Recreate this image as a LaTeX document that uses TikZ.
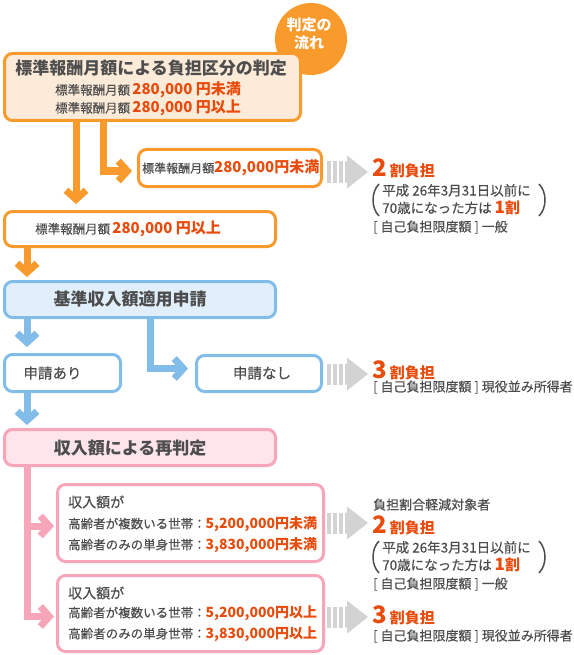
\documentclass[tikz,border=0pt]{standalone}
\usepackage{fontspec}
\setmainfont{Noto Sans CJK JP}[UprightFeatures={FakeBold=0.4}]
\usetikzlibrary{arrows.meta,calc}
\definecolor{orng}{HTML}{F99A2D}
\definecolor{orfill}{HTML}{FDEBDA}
\definecolor{redt}{HTML}{E94B0C}
\definecolor{txt}{HTML}{4D4D4D}
\definecolor{bluel}{HTML}{82BCE8}
\definecolor{bluef}{HTML}{E0EFFB}
\definecolor{pinkl}{HTML}{F7A6B9}
\definecolor{pinkf}{HTML}{FDE5EB}
\definecolor{grayc}{HTML}{D3D3D3}
\newcommand{\fsz}[1]{\fontsize{#1}{#1}\selectfont}
\newcommand{\redv}[2]{{\fsz{#1}\bfseries\color{redt}#2}}
\begin{document}
\begin{tikzpicture}[x=1pt,y=1pt,
  box/.style={rounded corners=8pt, line width=3pt, inner sep=0pt},
  obox/.style={box, draw=orng, fill=white},
  bbox/.style={box, draw=bluel, fill=white},
  pbox/.style={box, draw=pinkl, fill=white},
  tx/.style={text=txt, inner sep=0pt, anchor=west},
  rt/.style={text=txt, inner sep=0pt, anchor=base west},
  sm/.style={rt, font=\fsz{13}, text height=10pt, text depth=1.5pt},
  pl/.style={rt, font=\fsz{13.5}, text height=10pt, text depth=1pt},
  big/.style={rt, text height=14pt, text depth=1pt},
  head/.style={text=txt, inner sep=0pt, font=\fsz{17}\bfseries},
  flow/.style={line width=7pt, -{Straight Barb[length=9pt,width=20pt]}},
  paren/.style={draw=txt, line width=1.5pt},
  grayarr/.pic={
    \fill[grayc] (0,-10.5) rectangle (4.2,10.5);
    \fill[grayc] (6,-10.5) rectangle (10.2,10.5);
    \fill[grayc] (12,-10.5) rectangle (16.2,10.5);
    \fill[grayc] (18,-10.5) -- (20,-10.5) -- (20,-16.5) -- (41,0) -- (20,16.5) -- (20,10.5) -- (18,10.5) -- cycle;
  }
]
\fill[white] (0,0) rectangle (573,-655);
\useasboundingbox (0,0) rectangle (573,-655);

% circle badge
\node[circle, fill=orng, minimum size=72pt, inner sep=0pt] (circ) at (311,-39) {};
\node[text=white, font=\fontsize{15}{18.5}\selectfont\bfseries, align=center, inner sep=0pt] (circt) at (309,-34) {判定の\\流れ};

% boxes
\node[box, draw=orng, fill=orfill, minimum width=296pt, minimum height=67pt] (b1) at (152.5,-87) {};
\node[obox, minimum width=183pt, minimum height=37pt] (b2) at (230,-168) {};
\node[obox, minimum width=271pt, minimum height=35pt] (b3) at (140,-229) {};
\node[box, draw=bluel, fill=bluef, minimum width=271pt, minimum height=36pt] (b4) at (140,-299.5) {};
\node[bbox, minimum width=116pt, minimum height=37pt] (b5) at (62.5,-373) {};
\node[bbox, minimum width=125pt, minimum height=36pt] (b6) at (259,-373.5) {};
\node[box, draw=pinkl, fill=pinkf, minimum width=271pt, minimum height=36pt] (b7) at (140,-447.5) {};
\node[pbox, minimum width=266pt, minimum height=77pt] (b8) at (190.5,-523) {};
\node[pbox, minimum width=266pt, minimum height=76pt] (b9) at (190.5,-613.5) {};

% connectors
\coordinate (xa) at (76,0);
\coordinate (xb) at (103,0);
\coordinate (xc) at (27,0);
\coordinate (xd) at (150,0);
\draw[flow, draw=orng, shorten >=6pt] (b1.south -| xa) -- (b3.north -| xa);
\draw[flow, draw=orng, shorten >=5pt] (b1.south -| xb) |- ([yshift=-3pt]b2.west);
\draw[flow, draw=orng, shorten >=3pt] (b3.south -| xc) -- (b4.north -| xc);
\draw[flow, draw=bluel, shorten >=6pt] (b4.south -| xc) -- (b5.north -| xc);
\draw[flow, draw=bluel, shorten >=7pt] (b4.south -| xd) |- ([yshift=5pt]b6.west);
\draw[flow, draw=bluel, shorten >=3pt] (b5.south -| xc) -- (b7.north -| xc);
\draw[flow, draw=pinkl, shorten >=2pt] (b7.south -| xc) |- ([yshift=-3pt]b8.west);
\draw[flow, draw=pinkl, shorten >=2pt] (b7.south -| xc) |- ([yshift=-3pt]b9.west);

% box texts
\node[head] (t1) at (151,-68) {標準報酬月額による負担区分の判定};
\node[tx] (s1) at (55,-90) {{\fsz{12.5}標準報酬月額} \redv{15}{280,000 円未満}};
\node[tx] (s2) at (55,-108) {{\fsz{12.5}標準報酬月額} \redv{15}{280,000 円以上}};
\node[tx] (t2) at (142,-168) {{\fsz{12}標準報酬月額}\redv{15}{280,000円未満}};
\node[tx] (t3) at (35,-229) {{\fsz{12.5}標準報酬月額} \redv{15}{280,000 円以上}};
\node[head] (t4) at (130,-299) {基準収入額適用申請};
\node[text=txt, inner sep=0pt, font=\fsz{14.5}] (t5) at (52.5,-373) {申請あり};
\node[text=txt, inner sep=0pt, font=\fsz{14.5}] (t6) at (262,-373) {申請なし};
\node[head] (t7) at (130,-448) {収入額による再判定};
\node[tx, font=\fsz{14}] (t8a) at (68,-502) {収入額が};
\node[tx] (t8b) at (68,-524) {{\fsz{12.5}高齢者が複数いる世帯：}\redv{14}{5,200,000円未満}};
\node[tx] (t8c) at (68,-545) {{\fsz{12.5}高齢者のみの単身世帯：}\redv{14}{3,830,000円未満}};
\node[tx, font=\fsz{14}] (t9a) at (68,-593) {収入額が};
\node[tx] (t9b) at (68,-613) {{\fsz{12.5}高齢者が複数いる世帯：}\redv{14}{5,200,000円以上}};
\node[tx] (t9c) at (68,-634) {{\fsz{12.5}高齢者のみの単身世帯：}\redv{14}{3,830,000円以上}};

% gray arrows
\pic at (327,-172) {grayarr};
\pic at (327,-374) {grayarr};
\pic at (327,-523) {grayarr};
\pic at (327,-617) {grayarr};

% right texts: block 1
\node[big] (r1) at (372,-176) {\redv{24}{2}\hspace{3pt}\redv{15}{割負担}};
\node[pl] (r1p1) at (382,-195.5) {平成 26年3月31日以前に};
\node[pl] (r1p2) at (382,-213) {70歳になった方は \redv{17}{1}\redv{15}{割}};
\node[sm] (r1g) at (373,-231.5) {[ 自己負担限度額 ] 一般};
\draw[paren] (379,-184) .. controls (371,-192) and (371,-208) .. (379,-216);
\draw[paren] (539,-184) .. controls (547,-192) and (547,-208) .. (539,-216);

% block 2
\node[big] (r2) at (372,-378) {\redv{24}{3}\hspace{3pt}\redv{15}{割負担}};
\node[sm] (r2g) at (373,-391.5) {[ 自己負担限度額 ] 現役並み所得者};

% block 3
\node[sm] (r3h) at (373,-509.5) {負担割合軽減対象者};
\node[big] (r3) at (372,-533) {\redv{24}{2}\hspace{3pt}\redv{15}{割負担}};
\node[pl] (r3p1) at (382,-552.5) {平成 26年3月31日以前に};
\node[pl] (r3p2) at (382,-570) {70歳になった方は \redv{17}{1}\redv{15}{割}};
\node[sm] (r3g) at (373,-588.5) {[ 自己負担限度額 ] 一般};
\draw[paren] (379,-541) .. controls (371,-549) and (371,-565) .. (379,-573);
\draw[paren] (539,-541) .. controls (547,-549) and (547,-565) .. (539,-573);

% block 4
\node[big] (r4) at (372,-623) {\redv{24}{3}\hspace{3pt}\redv{15}{割負担}};
\node[sm] (r4g) at (373,-640.5) {[ 自己負担限度額 ] 現役並み所得者};
\end{tikzpicture}
\end{document}
